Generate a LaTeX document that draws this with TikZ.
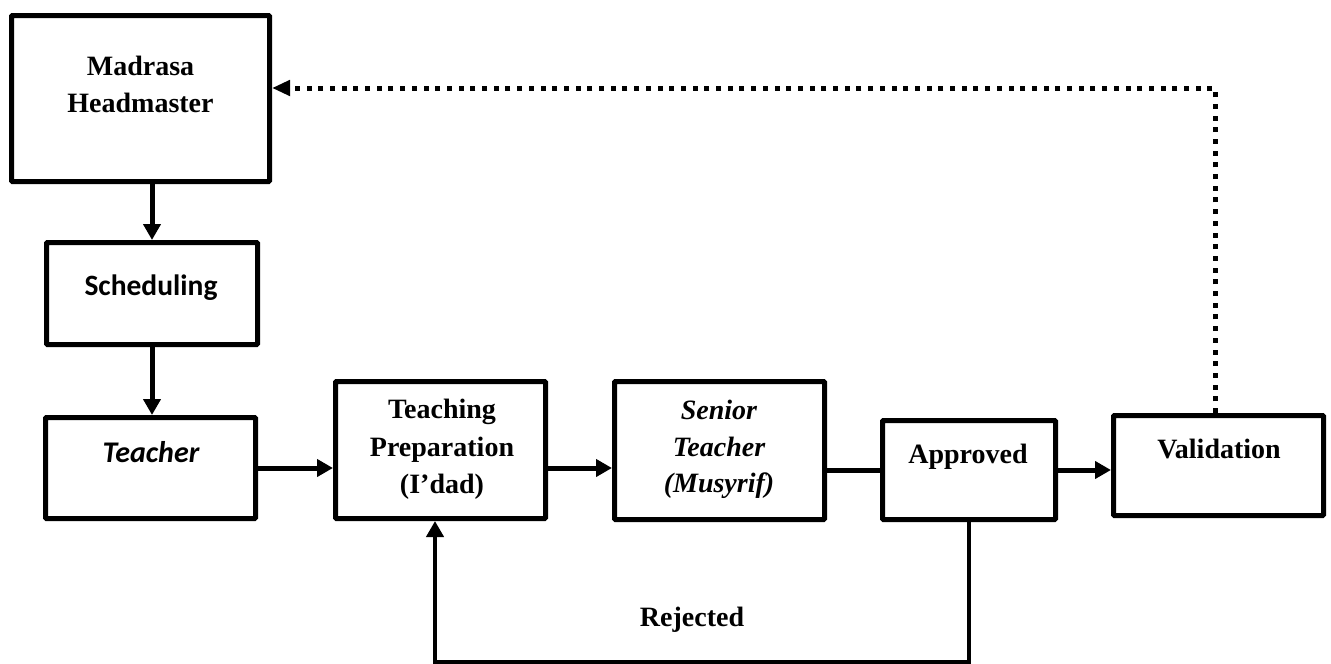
\documentclass[tikz,border=0pt]{standalone}
\usepackage{fontspec}
\setmainfont{Liberation Serif}
\newfontfamily\calfont{Carlito}
\usetikzlibrary{arrows.meta}
\begin{document}
\begin{tikzpicture}[x=1pt,y=-1pt,
  box/.style={draw, line width=5pt, rectangle, inner sep=0pt, rounded corners=1pt},
  ser/.style={font=\fontsize{28}{33}\selectfont\bfseries, anchor=base, inner sep=0pt},
  seri/.style={font=\fontsize{28}{33}\selectfont\bfseries\itshape, anchor=base, inner sep=0pt},
  sans/.style={font=\fontsize{29.5}{34}\selectfont\calfont\bfseries, anchor=base, inner sep=0pt},
  sansi/.style={font=\fontsize{30}{34}\selectfont\calfont\bfseries\itshape, anchor=base, inner sep=0pt},
  arr/.style={line width=5pt, -{Triangle[length=16pt,width=17pt]}},
  plain/.style={line width=5pt},
  loopline/.style={line width=4.5pt, -{Triangle[length=16pt,width=17pt]}},
  dotline/.style={line width=5pt, line cap=butt, dash pattern=on 5pt off 6.7pt, -{Triangle[length=18pt,width=15pt]}}]
\useasboundingbox (0,0) rectangle (1331,664);
% boxes
\node[box, minimum width=258pt, minimum height=166pt] (mad) at (140.5,98.5) {};
\node[box, minimum width=211pt, minimum height=102pt] (sch) at (152,293.5) {};
\node[box, minimum width=210pt, minimum height=101pt] (tea) at (150.5,468) {};
\node[box, minimum width=210pt, minimum height=137pt] (tp) at (440.5,450) {};
\node[box, minimum width=210pt, minimum height=138pt] (sen) at (719.5,450.5) {};
\node[box, minimum width=173pt, minimum height=99pt] (app) at (969,470) {};
\node[box, minimum width=210pt, minimum height=100pt] (val) at (1218.5,465.5) {};
% texts
\node[ser] (madA) at (140.5,75) {Madrasa};
\node[ser] (madB) at (140.5,112) {Headmaster};
\node[sans] (schT) at (151,295) {Scheduling};
\node[sansi] (teaT) at (151,462) {Teacher};
\node[ser] (tpA) at (442,418) {Teaching};
\node[ser] (tpB) at (442,456) {Preparation};
\node[ser] (tpC) at (442,493) {(I’dad)};
\node[seri] (senA) at (719,419) {Senior};
\node[seri] (senB) at (719,456) {Teacher};
\node[seri] (senC) at (719,492) {(Musyrif)};
\node[ser] (appT) at (968,463) {Approved};
\node[ser] (valT) at (1219,458) {Validation};
\node[ser] (rejT) at (692,626) {Rejected};
% connectors
\draw[arr] (sch.north |- mad.south) -- (sch.north);
\draw[arr] (sch.south) -- (sch.south |- tea.north);
\draw[arr] (tea.east) -- (tea.east -| tp.west);
\draw[arr] (tp.east |- tea.east) -- (sen.west |- tea.east);
\draw[plain] (sen.east |- app.west) -- (app.west);
\draw[arr] (app.east) -- (app.east -| val.west);
\coordinate (vc) at (1215,88);
\draw[dotline] (val.north -| vc) -- (vc) -- (vc -| mad.east);
\coordinate (lb) at (435,662.5);
\draw[loopline] (app.south) -- (app.south |- lb) -- (lb) -- (lb |- tp.south);
\end{tikzpicture}
\end{document}
